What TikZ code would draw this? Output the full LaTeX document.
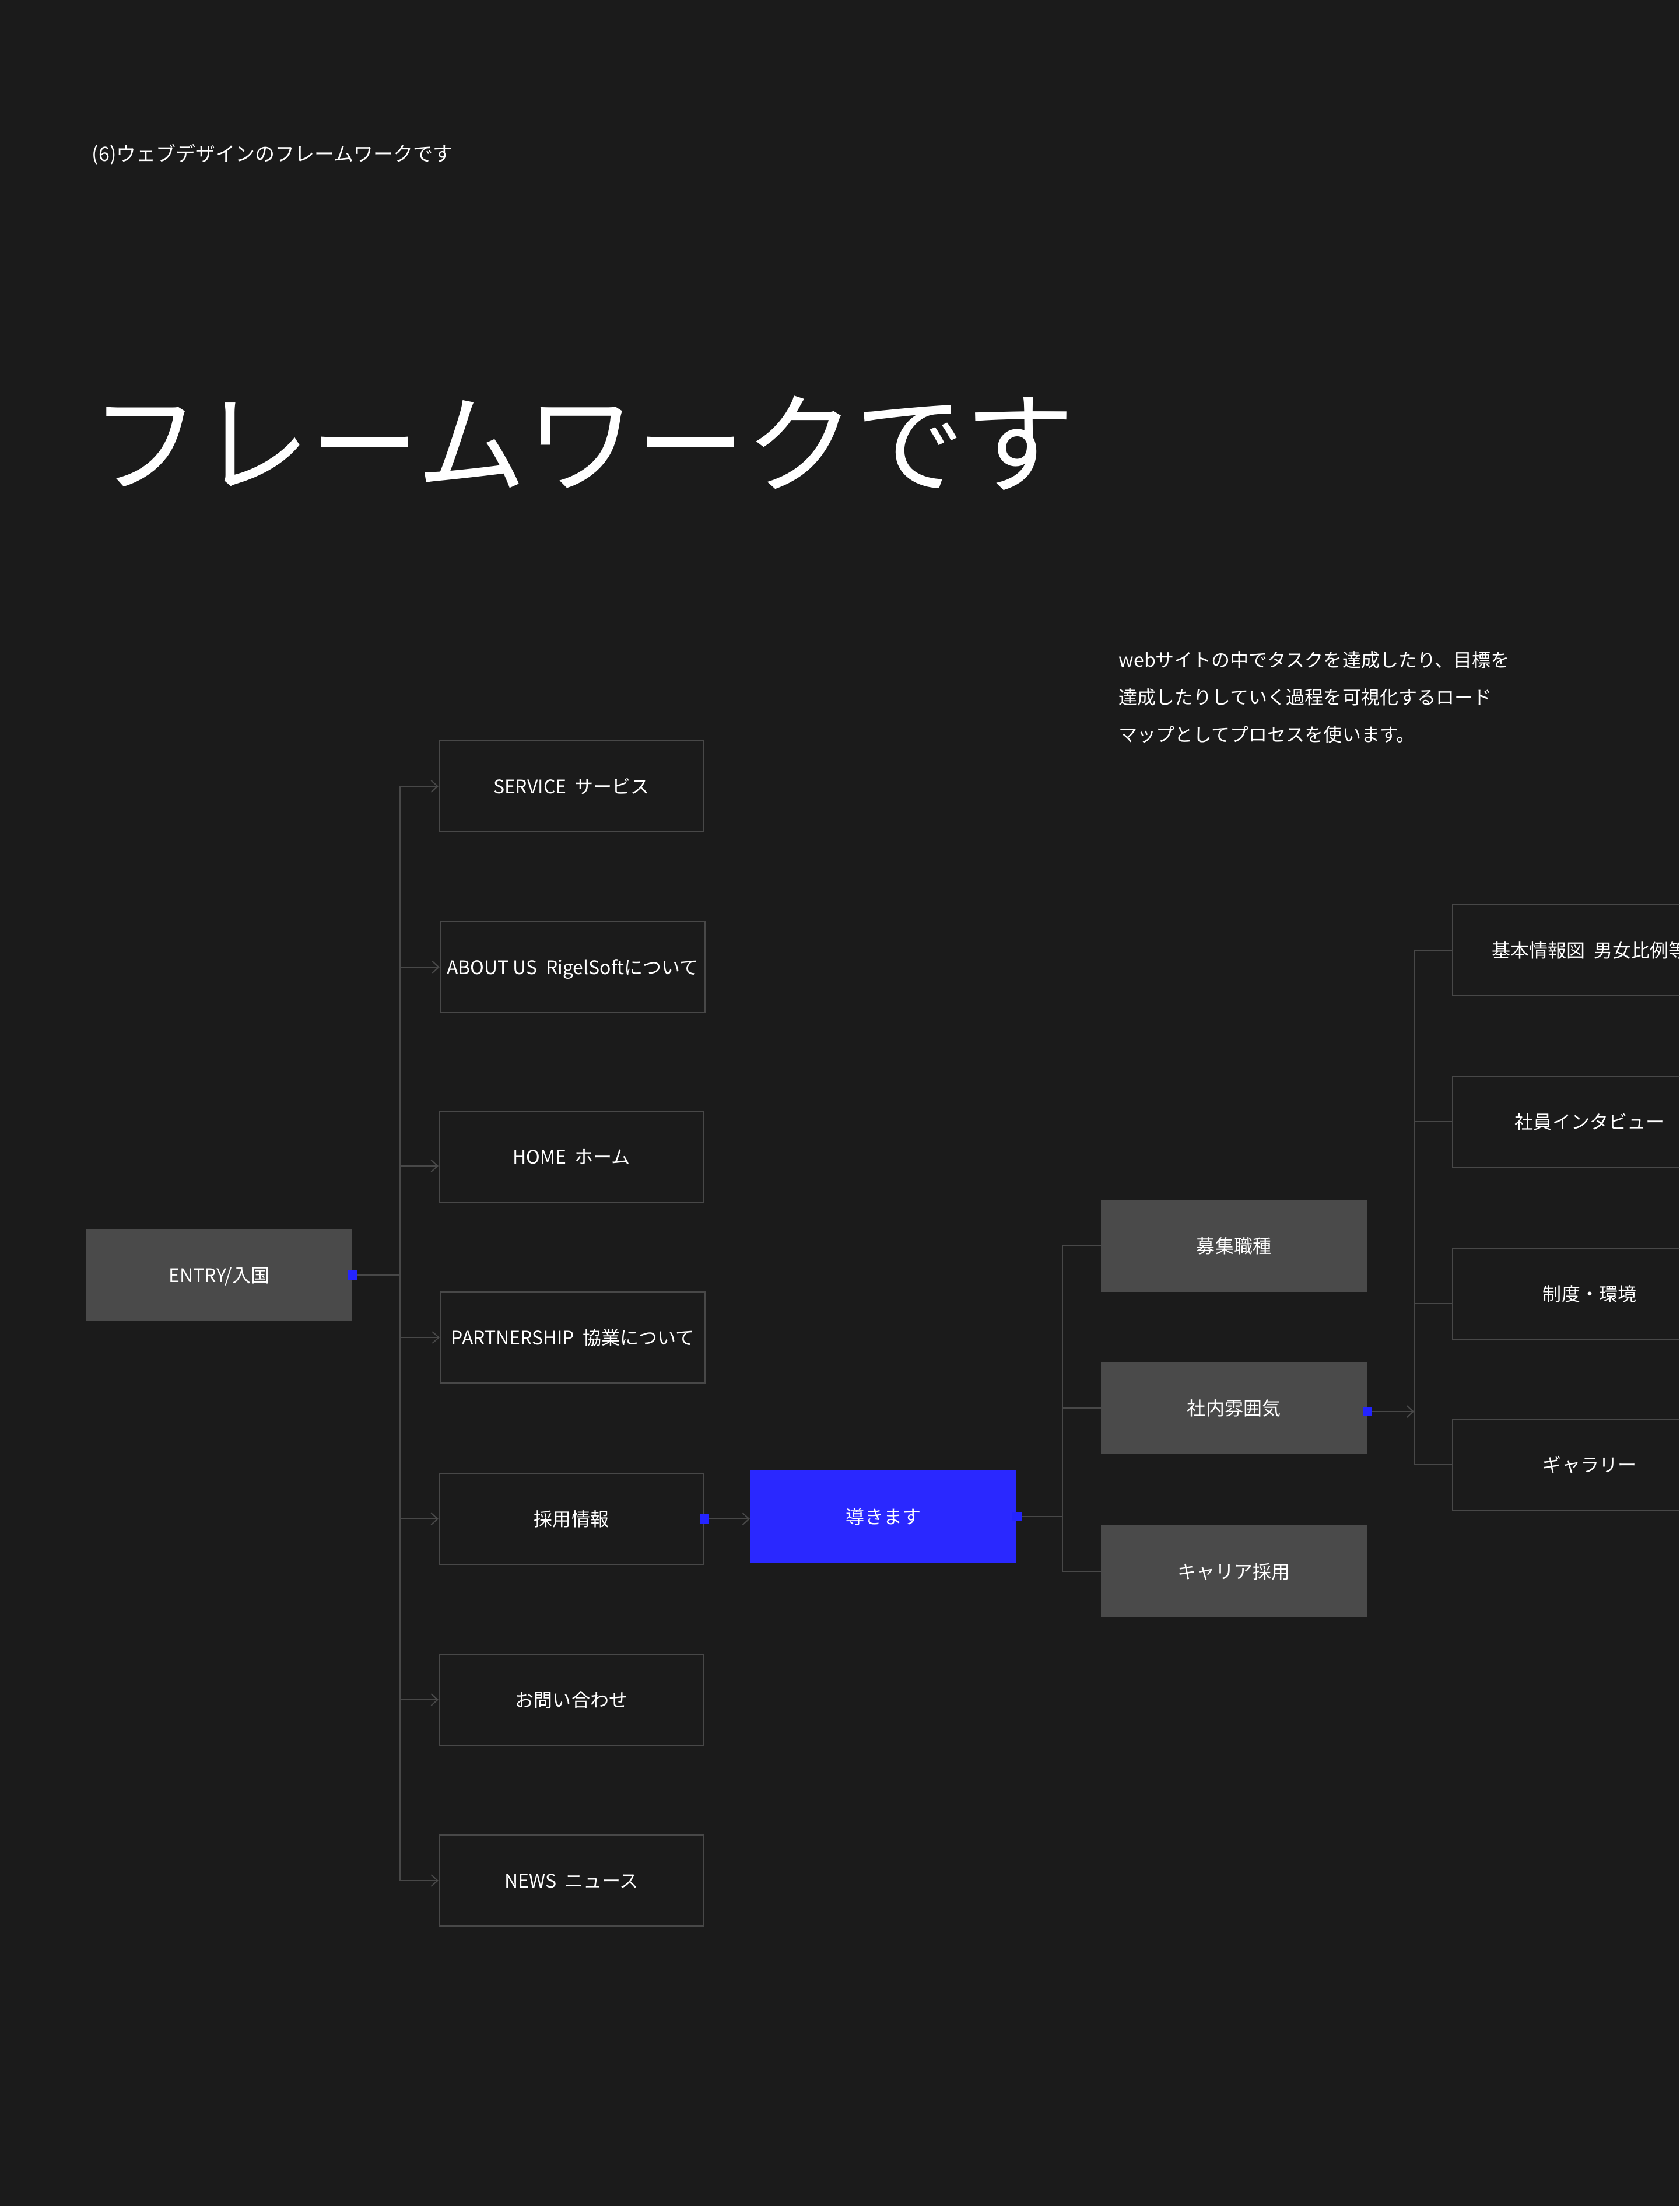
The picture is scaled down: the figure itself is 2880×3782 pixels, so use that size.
\documentclass[tikz,border=0pt]{standalone}
\usepackage{fontspec}
\setmainfont{Noto Sans CJK JP}
\usetikzlibrary{arrows.meta}
\definecolor{bg}{HTML}{1B1B1B}
\definecolor{boxgray}{HTML}{4A4A4A}
\definecolor{edge}{HTML}{484848}
\definecolor{accent}{HTML}{2A28FF}
\definecolor{dotblue}{HTML}{2424FF}
\begin{document}
\begin{tikzpicture}[x=0.01cm, y=-0.01cm,
  txt/.style={text=white, font=\fontsize{0.32cm}{0.4cm}\selectfont, text height=0.85em, text depth=0.12em, inner sep=0pt},
  outbox/.style={txt, draw=edge, line width=0.02cm, minimum width=4.54cm, minimum height=1.56cm},
  graybox/.style={txt, fill=boxgray, minimum width=4.56cm, minimum height=1.58cm},
  bluebox/.style={txt, fill=accent, minimum width=4.56cm, minimum height=1.58cm},
  dot/.style={fill=dotblue, minimum size=0.16cm, inner sep=0pt},
  conn/.style={draw=edge, line width=0.02cm, line cap=rect},
  arr/.style={-{Straight Barb[length=0.11cm,width=0.2cm]}},
  plain/.style={anchor=base west, inner sep=0pt, text=white}
]
\fill[bg] (0,0) rectangle (2880,3782);
\useasboundingbox (0,0) rectangle (2880,3782);
\clip (0,0) rectangle (2880,3782);

% texts
\node[plain, font=\fontsize{0.34cm}{0.42cm}\selectfont] (sub) at (157,277) {(6)ウェブデザインのフレームワークです};
\node[plain, font=\fontsize{1.88cm}{2cm}\selectfont] (title) at (155,830) {フレームワークです};
\node[plain, font=\fontsize{0.32cm}{0.4cm}\selectfont] (p1) at (1918,1143) {webサイトの中でタスクを達成したり、目標を};
\node[plain, font=\fontsize{0.32cm}{0.4cm}\selectfont] (p2) at (1918,1207) {達成したりしていく過程を可視化するロード};
\node[plain, font=\fontsize{0.32cm}{0.4cm}\selectfont] (p3) at (1918,1271) {マップとしてプロセスを使います。};

% entry
\node[graybox] (entry) at (376,2186) {ENTRY/入国};

% left column
\node[outbox] (service) at (980,1348) {SERVICE~~サービス};
\node[outbox] (about) at (982,1658) {ABOUT US~~RigelSoftについて};
\node[outbox] (home) at (980,1983) {HOME~~ホーム};
\node[outbox] (partner) at (982,2293) {PARTNERSHIP~~協業について};
\node[outbox] (saiyo) at (980,2604) {採用情報};
\node[outbox] (contact) at (980,2914) {お問い合わせ};
\node[outbox] (news) at (980,3224) {NEWS~~ニュース};

% lead
\node[bluebox] (lead) at (1515,2600) {導きます};

% middle column
\node[graybox] (boshu) at (2116,2136) {募集職種};
\node[graybox] (shanai) at (2116,2414) {社内雰囲気};
\node[graybox] (career) at (2116,2694) {キャリア採用};

% right column
\node[outbox, minimum width=4.7cm] (kihon) at (2726,1629) {基本情報図~~男女比例等};
\node[outbox, minimum width=4.7cm] (shain) at (2726,1923) {社員インタビュー};
\node[outbox, minimum width=4.7cm] (seido) at (2726,2218) {制度・環境};
\node[outbox, minimum width=4.7cm] (gallery) at (2726,2511) {ギャラリー};

% trunk coordinates
\coordinate (lt) at (686,0);
\coordinate (rt) at (1822,0);
\coordinate (ft) at (2425,0);
\coordinate (homein) at ([yshift=-0.16cm]home.west);
\coordinate (seidoin) at ([yshift=-0.17cm]seido.west);

% left connectors
\draw[conn] (service.west -| lt) -- (news.west -| lt);
\foreach \b in {service,about,partner,saiyo,contact,news}
  \draw[conn,arr] (\b.west -| lt) -- (\b.west);
\draw[conn,arr] (homein -| lt) -- (homein);

% middle connectors
\draw[conn] (boshu.west -| rt) -- (career.west -| rt);
\foreach \b in {boshu,shanai,career}
  \draw[conn] (\b.west -| rt) -- (\b.west);

% right connectors
\draw[conn] (kihon.west -| ft) -- (gallery.west -| ft);
\foreach \b in {kihon,shain,gallery}
  \draw[conn] (\b.west -| ft) -- (\b.west);
\draw[conn] (seidoin -| ft) -- (seidoin);

% dots and links
\node[dot] (d1) at (entry.east) {};
\node[dot] (d2) at (saiyo.east) {};
\node[dot] (d3) at (lead.east) {};
\node[dot] (d4) at ([yshift=-0.06cm]shanai.east) {};
\draw[conn] (d1.east) -- (d1.east -| lt);
\draw[conn,arr] (d2.east) -- (d2.east -| lead.west);
\draw[conn] (d3.east) -- (d3.east -| rt);
\draw[conn,arr] (d4.east) -- (d4.east -| ft);
\end{tikzpicture}
\end{document}
